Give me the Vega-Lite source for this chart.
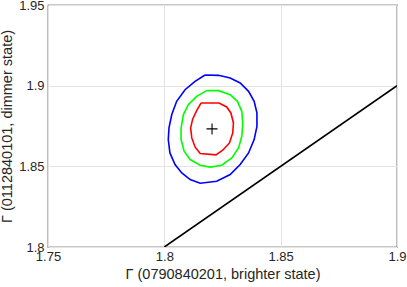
{
  "$schema": "https://vega.github.io/schema/vega-lite/v6.json",
  "autosize": "none",
  "padding": {"left": 48, "top": 5, "right": 10, "bottom": 40},
  "width": 349,
  "height": 242,
  "background": "white",
  "config": {
    "view": {"stroke": "#262626", "strokeWidth": 1.2},
    "font": "Liberation Sans",
    "axis": {
      "labelFont": "Liberation Sans",
      "titleFont": "Liberation Sans",
      "labelFontSize": 13,
      "titleFontSize": 14.5,
      "labelColor": "#262626",
      "titleColor": "#262626",
      "titleFontWeight": "normal",
      "ticks": false,
      "domain": false,
      "gridColor": "#e3e3e3",
      "gridWidth": 1
    }
  },
  "datasets": {
    "contours": [
      {"c": "blue", "i": 0, "x": 1.8175, "y": 1.9066},
      {"c": "blue", "i": 1, "x": 1.8233, "y": 1.9064},
      {"c": "blue", "i": 2, "x": 1.8283, "y": 1.9047},
      {"c": "blue", "i": 3, "x": 1.8326, "y": 1.9017},
      {"c": "blue", "i": 4, "x": 1.8362, "y": 1.8965},
      {"c": "blue", "i": 5, "x": 1.8386, "y": 1.8903},
      {"c": "blue", "i": 6, "x": 1.8398, "y": 1.8831},
      {"c": "blue", "i": 7, "x": 1.8398, "y": 1.8748},
      {"c": "blue", "i": 8, "x": 1.8386, "y": 1.8666},
      {"c": "blue", "i": 9, "x": 1.8362, "y": 1.8583},
      {"c": "blue", "i": 10, "x": 1.8326, "y": 1.8511},
      {"c": "blue", "i": 11, "x": 1.8283, "y": 1.8449},
      {"c": "blue", "i": 12, "x": 1.8225, "y": 1.8408},
      {"c": "blue", "i": 13, "x": 1.8154, "y": 1.8395},
      {"c": "blue", "i": 14, "x": 1.8111, "y": 1.8418},
      {"c": "blue", "i": 15, "x": 1.8075, "y": 1.8459},
      {"c": "blue", "i": 16, "x": 1.8046, "y": 1.8511},
      {"c": "blue", "i": 17, "x": 1.8024, "y": 1.8583},
      {"c": "blue", "i": 18, "x": 1.8017, "y": 1.8666},
      {"c": "blue", "i": 19, "x": 1.8020, "y": 1.8738},
      {"c": "blue", "i": 20, "x": 1.8032, "y": 1.8821},
      {"c": "blue", "i": 21, "x": 1.8053, "y": 1.8903},
      {"c": "blue", "i": 22, "x": 1.8089, "y": 1.8975},
      {"c": "blue", "i": 23, "x": 1.8132, "y": 1.9027},
      {"c": "blue", "i": 24, "x": 1.8175, "y": 1.9066},
      {"c": "green", "i": 0, "x": 1.8182, "y": 1.8969},
      {"c": "green", "i": 1, "x": 1.8233, "y": 1.8969},
      {"c": "green", "i": 2, "x": 1.8283, "y": 1.8944},
      {"c": "green", "i": 3, "x": 1.8314, "y": 1.8903},
      {"c": "green", "i": 4, "x": 1.8333, "y": 1.8841},
      {"c": "green", "i": 5, "x": 1.8337, "y": 1.8769},
      {"c": "green", "i": 6, "x": 1.8333, "y": 1.8686},
      {"c": "green", "i": 7, "x": 1.8319, "y": 1.8614},
      {"c": "green", "i": 8, "x": 1.8290, "y": 1.8552},
      {"c": "green", "i": 9, "x": 1.8247, "y": 1.8507},
      {"c": "green", "i": 10, "x": 1.8197, "y": 1.8495},
      {"c": "green", "i": 11, "x": 1.8154, "y": 1.8507},
      {"c": "green", "i": 12, "x": 1.8111, "y": 1.8542},
      {"c": "green", "i": 13, "x": 1.8085, "y": 1.8594},
      {"c": "green", "i": 14, "x": 1.8072, "y": 1.8666},
      {"c": "green", "i": 15, "x": 1.8072, "y": 1.8738},
      {"c": "green", "i": 16, "x": 1.8082, "y": 1.8821},
      {"c": "green", "i": 17, "x": 1.8103, "y": 1.8882},
      {"c": "green", "i": 18, "x": 1.8139, "y": 1.8934},
      {"c": "green", "i": 19, "x": 1.8182, "y": 1.8969},
      {"c": "red", "i": 0, "x": 1.8158, "y": 1.8893},
      {"c": "red", "i": 1, "x": 1.8235, "y": 1.8893},
      {"c": "red", "i": 2, "x": 1.8268, "y": 1.8868},
      {"c": "red", "i": 3, "x": 1.8286, "y": 1.8831},
      {"c": "red", "i": 4, "x": 1.8297, "y": 1.8769},
      {"c": "red", "i": 5, "x": 1.8294, "y": 1.8707},
      {"c": "red", "i": 6, "x": 1.8280, "y": 1.8645},
      {"c": "red", "i": 7, "x": 1.8251, "y": 1.8600},
      {"c": "red", "i": 8, "x": 1.8222, "y": 1.8571},
      {"c": "red", "i": 9, "x": 1.8154, "y": 1.8579},
      {"c": "red", "i": 10, "x": 1.8132, "y": 1.8620},
      {"c": "red", "i": 11, "x": 1.8118, "y": 1.8676},
      {"c": "red", "i": 12, "x": 1.8113, "y": 1.8738},
      {"c": "red", "i": 13, "x": 1.8122, "y": 1.8794},
      {"c": "red", "i": 14, "x": 1.8139, "y": 1.8845},
      {"c": "red", "i": 15, "x": 1.8158, "y": 1.8893}
    ],
    "diag": [
      {"x": 1.8, "y": 1.8},
      {"x": 1.9, "y": 1.9}
    ],
    "best": [
      {"x": 1.8205, "y": 1.8732}
    ]
  },
  "layer": [
    {
      "data": {"name": "diag"},
      "mark": {"type": "line", "color": "black", "strokeWidth": 1.6, "clip": true},
      "encoding": {
        "x": {
          "field": "x", "type": "quantitative",
          "scale": {"domain": [1.75, 1.9], "nice": false, "zero": false},
          "axis": {"values": [1.75, 1.8, 1.85, 1.9], "format": "~g", "title": "Γ (0790840201, brighter state)", "labelPadding": 3, "titlePadding": 4, "labelFlush": false}
        },
        "y": {
          "field": "y", "type": "quantitative",
          "scale": {"domain": [1.8, 1.95], "nice": false, "zero": false},
          "axis": {"values": [1.8, 1.85, 1.9, 1.95], "format": "~g", "title": "Γ (0112840101, dimmer state)", "labelPadding": 4, "titlePadding": 4, "labelFlush": false}
        }
      }
    },
    {
      "data": {"name": "contours"},
      "mark": {"type": "line", "strokeWidth": 1.6, "interpolate": "linear"},
      "encoding": {
        "x": {"field": "x", "type": "quantitative"},
        "y": {"field": "y", "type": "quantitative"},
        "order": {"field": "i", "type": "quantitative"},
        "detail": {"field": "c"},
        "color": {
          "field": "c", "type": "nominal",
          "scale": {"domain": ["blue", "green", "red"], "range": ["#0000ff", "#00ff00", "#ff0000"]},
          "legend": null
        }
      }
    },
    {
      "data": {"name": "best"},
      "mark": {"type": "point", "shape": "M -1 0 L 1 0 M 0 -1 L 0 1", "filled": false, "stroke": "black", "strokeWidth": 1.1, "size": 121, "opacity": 1},
      "encoding": {
        "x": {"field": "x", "type": "quantitative"},
        "y": {"field": "y", "type": "quantitative"}
      }
    }
  ]
}
